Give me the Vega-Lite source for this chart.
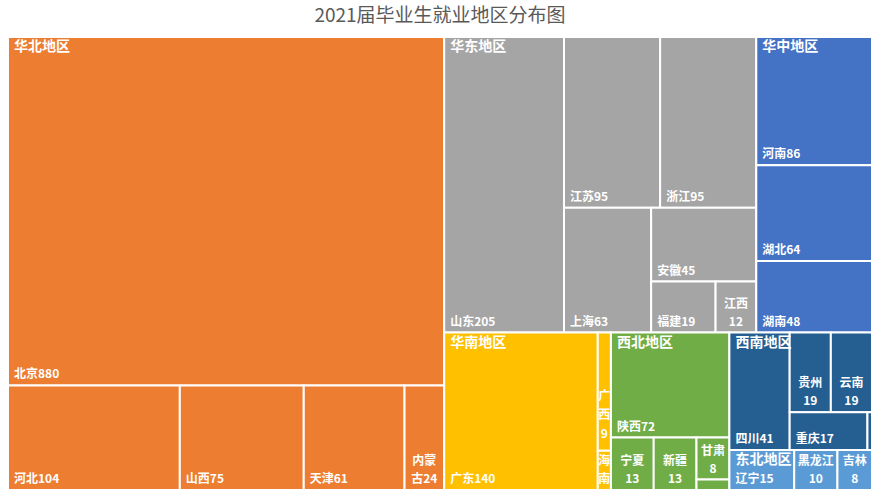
{
  "$schema": "https://vega.github.io/schema/vega-lite/v6.json",
  "autosize": {"type": "none"},
  "width": 864,
  "height": 453,
  "padding": {"left": 8, "right": 12, "top": 37, "bottom": 14},
  "background": "white",
  "config": {"view": {"stroke": null}},
  "title": {
    "text": "2021届毕业生就业地区分布图",
    "font": "Noto Sans CJK SC",
    "fontSize": 19,
    "fontWeight": "normal",
    "color": "#595959",
    "anchor": "middle",
    "offset": 10
  },
  "data": {
    "values": [
      {"name": "北京", "value": 880, "region": "华北地区", "path": "华北/北京"},
      {"name": "河北", "value": 104, "region": "华北地区", "path": "华北/余/河北"},
      {"name": "山西", "value": 75, "region": "华北地区", "path": "华北/余/山西"},
      {"name": "天津", "value": 61, "region": "华北地区", "path": "华北/余/天津"},
      {"name": "内蒙古", "value": 24, "region": "华北地区", "path": "华北/余/内蒙古"},
      {"name": "山东", "value": 205, "region": "华东地区", "path": "R/上/华东/华东/山东"},
      {"name": "江苏", "value": 95, "region": "华东地区", "path": "R/上/华东/华东/余/上/江苏"},
      {"name": "浙江", "value": 95, "region": "华东地区", "path": "R/上/华东/华东/余/上/浙江"},
      {"name": "上海", "value": 63, "region": "华东地区", "path": "R/上/华东/华东/余/下/上海"},
      {"name": "安徽", "value": 45, "region": "华东地区", "path": "R/上/华东/华东/余/下/皖闽赣/安徽"},
      {"name": "福建", "value": 19, "region": "华东地区", "path": "R/上/华东/华东/余/下/皖闽赣/闽赣/福建"},
      {"name": "江西", "value": 12, "region": "华东地区", "path": "R/上/华东/华东/余/下/皖闽赣/闽赣/江西"},
      {"name": "河南", "value": 86, "region": "华中地区", "path": "R/上/华中/河南"},
      {"name": "湖北", "value": 64, "region": "华中地区", "path": "R/上/华中/湖北"},
      {"name": "湖南", "value": 48, "region": "华中地区", "path": "R/上/华中/湖南"},
      {"name": "广东", "value": 140, "region": "华南地区", "path": "R/下/华南/华南/广东"},
      {"name": "广西", "value": 9, "region": "华南地区", "path": "R/下/华南/华南/桂琼/广西"},
      {"name": "海南", "value": 3, "region": "华南地区", "path": "R/下/华南/华南/桂琼/海南"},
      {"name": "陕西", "value": 72, "region": "西北地区", "path": "R/下/西北/陕西"},
      {"name": "宁夏", "value": 13, "region": "西北地区", "path": "R/下/西北/余/宁夏"},
      {"name": "新疆", "value": 13, "region": "西北地区", "path": "R/下/西北/余/新疆"},
      {"name": "甘肃", "value": 8, "region": "西北地区", "path": "R/下/西北/余/甘青/甘肃"},
      {"name": "青海", "value": 2, "region": "西北地区", "path": "R/下/西北/余/甘青/青海"},
      {"name": "四川", "value": 41, "region": "西南地区", "path": "R/下/西南东北/西南/四川"},
      {"name": "贵州", "value": 19, "region": "西南地区", "path": "R/下/西南东北/西南/余/贵云/贵州"},
      {"name": "云南", "value": 19, "region": "西南地区", "path": "R/下/西南东北/西南/余/贵云/云南"},
      {"name": "重庆", "value": 17, "region": "西南地区", "path": "R/下/西南东北/西南/余/渝藏/重庆"},
      {"name": "西藏", "value": 1, "region": "西南地区", "path": "R/下/西南东北/西南/余/渝藏/西藏"},
      {"name": "辽宁", "value": 15, "region": "东北地区", "path": "R/下/西南东北/东北/辽宁"},
      {"name": "黑龙江", "value": 10, "region": "东北地区", "path": "R/下/西南东北/东北/黑龙江"},
      {"name": "吉林", "value": 8, "region": "东北地区", "path": "R/下/西南东北/东北/吉林"}
    ]
  },
  "transform": [
    {"window": [{"op": "row_number", "as": "ord"}]},
    {"calculate": "'root'", "as": "k0"},

    {"calculate": "join(split(datum.path,'/',1),'/')", "as": "k1"},
    {"stack": "value", "groupby": ["k0"], "sort": [{"field": "ord", "order": "ascending"}], "as": ["s1", "e1"]},
    {"joinaggregate": [{"op": "min", "field": "s1", "as": "st1"}, {"op": "sum", "field": "value", "as": "ns1"}], "groupby": ["k1"]},
    {"joinaggregate": [{"op": "sum", "field": "value", "as": "ps1"}], "groupby": ["k0"]},
    {"calculate": "datum.st1 / datum.ps1", "as": "xa1"},
    {"calculate": "(datum.st1 + datum.ns1) / datum.ps1", "as": "xb1"},

    {"calculate": "join(split(datum.path,'/',2),'/')", "as": "k2"},
    {"stack": "value", "groupby": ["k1"], "sort": [{"field": "ord", "order": "ascending"}], "as": ["s2", "e2"]},
    {"joinaggregate": [{"op": "min", "field": "s2", "as": "st2"}, {"op": "sum", "field": "value", "as": "ns2"}], "groupby": ["k2"]},
    {"joinaggregate": [{"op": "sum", "field": "value", "as": "ps2"}], "groupby": ["k1"]},
    {"calculate": "datum.st2 / datum.ps2", "as": "ya2"},
    {"calculate": "(datum.st2 + datum.ns2) / datum.ps2", "as": "yb2"},

    {"calculate": "join(split(datum.path,'/',3),'/')", "as": "k3"},
    {"stack": "value", "groupby": ["k2"], "sort": [{"field": "ord", "order": "ascending"}], "as": ["s3", "e3"]},
    {"joinaggregate": [{"op": "min", "field": "s3", "as": "st3"}, {"op": "sum", "field": "value", "as": "ns3"}], "groupby": ["k3"]},
    {"joinaggregate": [{"op": "sum", "field": "value", "as": "ps3"}], "groupby": ["k2"]},
    {"calculate": "datum.xa1 + (datum.xb1 - datum.xa1) * datum.st3 / datum.ps3", "as": "xa3"},
    {"calculate": "datum.xa1 + (datum.xb1 - datum.xa1) * (datum.st3 + datum.ns3) / datum.ps3", "as": "xb3"},

    {"calculate": "join(split(datum.path,'/',4),'/')", "as": "k4"},
    {"stack": "value", "groupby": ["k3"], "sort": [{"field": "ord", "order": "ascending"}], "as": ["s4", "e4"]},
    {"joinaggregate": [{"op": "min", "field": "s4", "as": "st4"}, {"op": "sum", "field": "value", "as": "ns4"}], "groupby": ["k4"]},
    {"joinaggregate": [{"op": "sum", "field": "value", "as": "ps4"}], "groupby": ["k3"]},
    {"calculate": "datum.ya2 + (datum.yb2 - datum.ya2) * datum.st4 / datum.ps4", "as": "ya4"},
    {"calculate": "datum.ya2 + (datum.yb2 - datum.ya2) * (datum.st4 + datum.ns4) / datum.ps4", "as": "yb4"},

    {"calculate": "join(split(datum.path,'/',5),'/')", "as": "k5"},
    {"stack": "value", "groupby": ["k4"], "sort": [{"field": "ord", "order": "ascending"}], "as": ["s5", "e5"]},
    {"joinaggregate": [{"op": "min", "field": "s5", "as": "st5"}, {"op": "sum", "field": "value", "as": "ns5"}], "groupby": ["k5"]},
    {"joinaggregate": [{"op": "sum", "field": "value", "as": "ps5"}], "groupby": ["k4"]},
    {"calculate": "datum.xa3 + (datum.xb3 - datum.xa3) * datum.st5 / datum.ps5", "as": "xa5"},
    {"calculate": "datum.xa3 + (datum.xb3 - datum.xa3) * (datum.st5 + datum.ns5) / datum.ps5", "as": "xb5"},

    {"calculate": "join(split(datum.path,'/',6),'/')", "as": "k6"},
    {"stack": "value", "groupby": ["k5"], "sort": [{"field": "ord", "order": "ascending"}], "as": ["s6", "e6"]},
    {"joinaggregate": [{"op": "min", "field": "s6", "as": "st6"}, {"op": "sum", "field": "value", "as": "ns6"}], "groupby": ["k6"]},
    {"joinaggregate": [{"op": "sum", "field": "value", "as": "ps6"}], "groupby": ["k5"]},
    {"calculate": "datum.ya4 + (datum.yb4 - datum.ya4) * datum.st6 / datum.ps6", "as": "ya6"},
    {"calculate": "datum.ya4 + (datum.yb4 - datum.ya4) * (datum.st6 + datum.ns6) / datum.ps6", "as": "yb6"},

    {"calculate": "join(split(datum.path,'/',7),'/')", "as": "k7"},
    {"stack": "value", "groupby": ["k6"], "sort": [{"field": "ord", "order": "ascending"}], "as": ["s7", "e7"]},
    {"joinaggregate": [{"op": "min", "field": "s7", "as": "st7"}, {"op": "sum", "field": "value", "as": "ns7"}], "groupby": ["k7"]},
    {"joinaggregate": [{"op": "sum", "field": "value", "as": "ps7"}], "groupby": ["k6"]},
    {"calculate": "datum.xa5 + (datum.xb5 - datum.xa5) * datum.st7 / datum.ps7", "as": "xa7"},
    {"calculate": "datum.xa5 + (datum.xb5 - datum.xa5) * (datum.st7 + datum.ns7) / datum.ps7", "as": "xb7"},

    {"calculate": "join(split(datum.path,'/',8),'/')", "as": "k8"},
    {"stack": "value", "groupby": ["k7"], "sort": [{"field": "ord", "order": "ascending"}], "as": ["s8", "e8"]},
    {"joinaggregate": [{"op": "min", "field": "s8", "as": "st8"}, {"op": "sum", "field": "value", "as": "ns8"}], "groupby": ["k8"]},
    {"joinaggregate": [{"op": "sum", "field": "value", "as": "ps8"}], "groupby": ["k7"]},
    {"calculate": "datum.ya6 + (datum.yb6 - datum.ya6) * datum.st8 / datum.ps8", "as": "ya8"},
    {"calculate": "datum.ya6 + (datum.yb6 - datum.ya6) * (datum.st8 + datum.ns8) / datum.ps8", "as": "yb8"},

    {"calculate": "join(split(datum.path,'/',9),'/')", "as": "k9"},
    {"stack": "value", "groupby": ["k8"], "sort": [{"field": "ord", "order": "ascending"}], "as": ["s9", "e9"]},
    {"joinaggregate": [{"op": "min", "field": "s9", "as": "st9"}, {"op": "sum", "field": "value", "as": "ns9"}], "groupby": ["k9"]},
    {"joinaggregate": [{"op": "sum", "field": "value", "as": "ps9"}], "groupby": ["k8"]},
    {"calculate": "datum.xa7 + (datum.xb7 - datum.xa7) * datum.st9 / datum.ps9", "as": "x0"},
    {"calculate": "datum.xa7 + (datum.xb7 - datum.xa7) * (datum.st9 + datum.ns9) / datum.ps9", "as": "x1"},
    {"calculate": "datum.ya8", "as": "y0"},
    {"calculate": "datum.yb8", "as": "y1"},
    {"calculate": "(datum.x0 + datum.x1) / 2", "as": "xc"},
    {"calculate": "(datum.x1 - datum.x0) * 864", "as": "wpx"},
    {"calculate": "(datum.y1 - datum.y0) * 453", "as": "hpx"},
    {"calculate": "datum.wpx < 8 || datum.hpx < 12 ? 'none' : (datum.wpx >= 52 ? 'wide' : 'narrow')", "as": "mode"},
    {"calculate": "datum.mode == 'wide' ? datum.name + datum.value : (datum.wpx >= 25 ? (12 * length(datum.name) > datum.wpx - 4 ? substring(datum.name, 0, length(datum.name) - 1) + '\\n' + substring(datum.name, length(datum.name) - 1) + datum.value : datum.name + '\\n' + datum.value) : (datum.hpx > 60 ? join(split(datum.name + datum.value, ''), '\\n') : join(split(datum.name, ''), '\\n')))", "as": "label"},
    {"calculate": "length(split(datum.label, '\\n'))", "as": "nlines"}
  ],
  "encoding": {
    "x": {"field": "x0", "type": "quantitative", "scale": {"domain": [0, 1], "nice": false, "zero": false}, "axis": null},
    "y": {"field": "y1", "type": "quantitative", "scale": {"domain": [0, 1], "nice": false, "zero": false, "reverse": true}, "axis": null}
  },
  "layer": [
    {
      "mark": {"type": "rect", "stroke": "white", "strokeWidth": 2},
      "encoding": {
        "x": {"field": "x0", "type": "quantitative"},
        "x2": {"field": "x1"},
        "y": {"field": "y0", "type": "quantitative"},
        "y2": {"field": "y1"},
        "color": {
          "field": "region",
          "type": "nominal",
          "scale": {
            "domain": ["华北地区", "华东地区", "华中地区", "华南地区", "西北地区", "西南地区", "东北地区"],
            "range": ["#ED7D31", "#A5A5A5", "#4472C4", "#FFC000", "#70AD47", "#255E91", "#5B9BD5"]
          },
          "legend": null
        }
      }
    },
    {
      "transform": [{"filter": "datum.mode == 'wide'"}],
      "mark": {"type": "text", "align": "left", "baseline": "bottom", "dx": 6, "dy": -4, "font": "Noto Sans CJK SC", "fontWeight": "bold", "fontSize": 12, "color": "white"},
      "encoding": {
        "x": {"field": "x0", "type": "quantitative"},
        "y": {"field": "y1", "type": "quantitative"},
        "text": {"field": "label"}
      }
    },
    {
      "transform": [{"filter": "datum.mode == 'narrow' && datum.nlines == 2"}],
      "mark": {"type": "text", "align": "center", "baseline": "bottom", "dy": -22, "font": "Noto Sans CJK SC", "fontWeight": "bold", "fontSize": 12, "color": "white", "lineBreak": "\n", "lineHeight": 18},
      "encoding": {
        "x": {"field": "xc", "type": "quantitative"},
        "y": {"field": "y1", "type": "quantitative"},
        "text": {"field": "label"}
      }
    },
    {
      "transform": [{"filter": "datum.mode == 'narrow' && datum.nlines == 3"}],
      "mark": {"type": "text", "align": "center", "baseline": "bottom", "dy": -48, "font": "Noto Sans CJK SC", "fontWeight": "bold", "fontSize": 12, "color": "white", "lineBreak": "\n", "lineHeight": 19},
      "encoding": {
        "x": {"field": "xc", "type": "quantitative"},
        "y": {"field": "y1", "type": "quantitative"},
        "text": {"field": "label"}
      }
    },
    {
      "transform": [
        {"aggregate": [{"op": "min", "field": "x0", "as": "rx"}, {"op": "min", "field": "y0", "as": "ry"}], "groupby": ["region"]}
      ],
      "mark": {"type": "text", "align": "left", "baseline": "top", "dx": 6, "dy": 3, "font": "Noto Sans CJK SC", "fontWeight": "bold", "fontSize": 14, "color": "white"},
      "encoding": {
        "x": {"field": "rx", "type": "quantitative"},
        "y": {"field": "ry", "type": "quantitative"},
        "text": {"field": "region"}
      }
    }
  ]
}
